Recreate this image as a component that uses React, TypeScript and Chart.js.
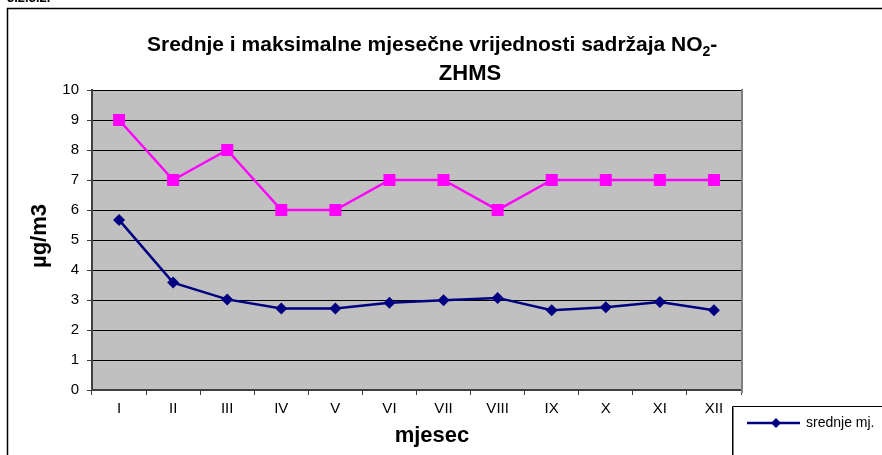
import { useEffect, useRef } from 'react';
import { Chart, registerables } from 'chart.js';

Chart.register(...registerables);

const months = ['I', 'II', 'III', 'IV', 'V', 'VI', 'VII', 'VIII', 'IX', 'X', 'XI', 'XII'];
const meanValues = [5.67, 3.58, 3.02, 2.72, 2.72, 2.91, 2.99, 3.07, 2.66, 2.76, 2.93, 2.66];
const maxValues = [9, 7, 8, 6, 6, 7, 7, 6, 7, 7, 7, 7];
const yMin = 0;
const yMax = 10;
const yStep = 1;
const seriesNames = ['srednje mj.', 'maksimalne mj.'];
const titleMain = 'Srednje i maksimalne mjesečne vrijednosti sadržaja NO';
const titleSub = '2';
const titleTail = '-';
const titleLine2 = 'ZHMS';
const yTitle = 'µg/m3';
const xTitle = 'mjesec';
const sectionLabel = '3.2.3.2.';

const FONT = '"Liberation Sans", Arial, sans-serif';
const NAVY = '#000080';
const MAGENTA = '#FF00FF';

const decorPlugin = {
  id: 'decor',
  beforeDraw(chart: any) {
    const { ctx, chartArea } = chart;
    ctx.save();
    ctx.fillStyle = '#ffffff';
    ctx.fillRect(0, 0, chart.width, chart.height);
    ctx.fillStyle = '#C0C0C0';
    ctx.fillRect(chartArea.left, chartArea.top, chartArea.right - chartArea.left, chartArea.bottom - chartArea.top);
    ctx.restore();
  },
  afterDraw(chart: any) {
    const { ctx, chartArea } = chart;
    ctx.save();
    // outer frame
    ctx.strokeStyle = '#000000';
    ctx.lineWidth = 1.5;
    ctx.beginPath();
    ctx.moveTo(7.5, chart.height);
    ctx.lineTo(7.5, 8.5);
    ctx.lineTo(chart.width, 8.5);
    ctx.stroke();

    // section label (clipped at top)
    ctx.fillStyle = '#000';
    ctx.font = `bold 13px ${FONT}`;
    ctx.textAlign = 'left';
    ctx.textBaseline = 'alphabetic';
    ctx.fillText(sectionLabel, 7, 2);

    // right plot border
    ctx.strokeStyle = '#808080';
    ctx.lineWidth = 2;
    ctx.beginPath();
    ctx.moveTo(chartArea.right + 1, chartArea.top - 1);
    ctx.lineTo(chartArea.right + 1, chartArea.bottom + 3);
    ctx.stroke();

    // title
    ctx.fillStyle = '#000';
    ctx.textBaseline = 'alphabetic';
    const big = `bold 21px ${FONT}`;
    const small = `bold 14px ${FONT}`;
    let x = 147;
    const base1 = 51;
    ctx.textAlign = 'left';
    ctx.font = big;
    ctx.fillText(titleMain, x, base1);
    x += ctx.measureText(titleMain).width;
    ctx.font = small;
    ctx.fillText(titleSub, x, base1 + 5);
    x += ctx.measureText(titleSub).width;
    ctx.font = big;
    ctx.fillText(titleTail, x, base1);
    ctx.font = `bold 22px ${FONT}`;
    ctx.textAlign = 'center';
    ctx.fillText(titleLine2, 470, 80);

    // axis titles
    ctx.font = `bold 22px ${FONT}`;
    ctx.textAlign = 'center';
    ctx.textBaseline = 'middle';
    ctx.fillText(xTitle, 432, 436);
    ctx.save();
    ctx.translate(40, 236);
    ctx.rotate(-Math.PI / 2);
    ctx.fillText(yTitle, 0, 0);
    ctx.restore();

    // legend box
    const lx = 732.5;
    const ly = 406.5;
    ctx.strokeStyle = '#000';
    ctx.lineWidth = 1;
    ctx.beginPath();
    ctx.moveTo(lx, chart.height);
    ctx.lineTo(lx, ly);
    ctx.lineTo(chart.width, ly);
    ctx.stroke();
    ctx.strokeStyle = '#808080';
    ctx.beginPath();
    ctx.moveTo(lx + 1, chart.height);
    ctx.lineTo(lx + 1, ly + 1);
    ctx.stroke();

    const ry = 423;
    ctx.strokeStyle = NAVY;
    ctx.lineWidth = 2.5;
    ctx.beginPath();
    ctx.moveTo(747, ry);
    ctx.lineTo(800, ry);
    ctx.stroke();
    ctx.fillStyle = NAVY;
    ctx.beginPath();
    ctx.moveTo(776, ry - 5);
    ctx.lineTo(781, ry);
    ctx.lineTo(776, ry + 5);
    ctx.lineTo(771, ry);
    ctx.closePath();
    ctx.fill();
    ctx.fillStyle = '#000';
    ctx.font = `14px ${FONT}`;
    ctx.textAlign = 'left';
    ctx.textBaseline = 'middle';
    ctx.fillText(seriesNames[0], 806, ry);
    ctx.restore();
  },
};

export default function App() {
  const ref = useRef<HTMLCanvasElement>(null);
  useEffect(() => {
    document.body.style.margin = '0';
    const canvas = ref.current!;
    const chart = new Chart(canvas, {
      type: 'line',
      data: {
        labels: months,
        datasets: [
          {
            label: seriesNames[0],
            data: meanValues,
            borderColor: NAVY,
            backgroundColor: NAVY,
            borderWidth: 2.5,
            pointStyle: 'rectRot',
            pointRadius: 6,
            pointBorderWidth: 0,
            tension: 0,
          },
          {
            label: seriesNames[1],
            data: maxValues,
            borderColor: MAGENTA,
            backgroundColor: MAGENTA,
            borderWidth: 2.5,
            pointStyle: 'rect',
            pointRadius: 8.5,
            pointBorderWidth: 0,
            tension: 0,
          },
        ],
      },
      options: {
        animation: false,
        responsive: false,
        devicePixelRatio: 1,
        layout: { padding: { left: 0, right: 141, top: 90, bottom: 0 } },
        plugins: {
          legend: { display: false },
          title: { display: false },
          tooltip: { enabled: false },
        },
        scales: {
          x: {
            offset: true,
            grid: {
              offset: true,
              drawOnChartArea: false,
              drawTicks: true,
              tickLength: 5,
              color: '#404040',
              lineWidth: 1,
            },
            border: { display: true, color: '#404040', width: 2 },
            ticks: {
              color: '#000',
              font: { family: FONT, size: 15 },
              padding: 5,
              maxRotation: 0,
              autoSkip: false,
            },
            afterFit(scale: any) {
              scale.height = 65;
            },
          },
          y: {
            min: yMin,
            max: yMax,
            grid: {
              color: '#000000',
              lineWidth: 1,
              drawTicks: true,
              tickLength: 5,
              tickColor: '#404040',
            },
            border: { display: true, color: '#404040', width: 2 },
            ticks: {
              stepSize: yStep,
              color: '#000',
              font: { family: FONT, size: 15 },
              padding: 8,
            },
            afterFit(scale: any) {
              scale.width = 92;
            },
          },
        },
      },
      plugins: [decorPlugin],
    });
    return () => chart.destroy();
  }, []);
  return <canvas ref={ref} width={882} height={455} style={{ display: 'block' }} />;
}
